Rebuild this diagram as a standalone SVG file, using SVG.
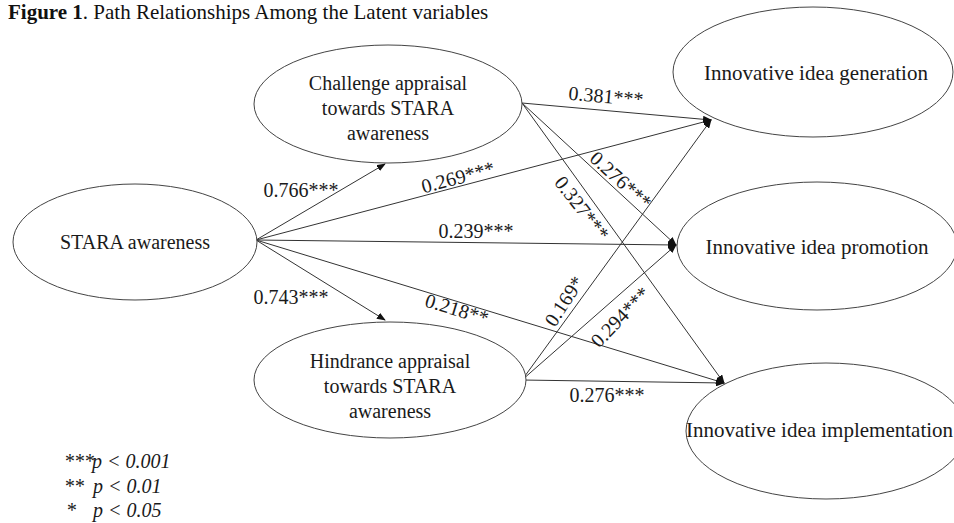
<svg xmlns="http://www.w3.org/2000/svg" width="954" height="523" viewBox="0 0 954 523">
  <defs>
    <marker id="arrow" markerWidth="9" markerHeight="7" refX="8" refY="3.5" orient="auto" markerUnits="userSpaceOnUse">
      <path d="M0,0 L9,3.5 L0,7 z" fill="#111"/>
    </marker>
    <style>
      .node ellipse { fill: #fff; stroke: #444; stroke-width: 1; }
      .node text { font-family: "Liberation Serif", "Times New Roman", serif; fill: #1a1a1a; text-anchor: middle; }
      .left text { font-size: 20px; }
      .right text { font-size: 21px; }
      .edges line { stroke: #333; stroke-width: 1; marker-end: url(#arrow); }
      .lbl { font-family: "Liberation Serif", "Times New Roman", serif; font-size: 20px; fill: #1a1a1a; text-anchor: middle; dominant-baseline: central; }
      .title { font-family: "Liberation Serif", "Times New Roman", serif; font-size: 21px; fill: #111; }
      .legend { font-family: "Liberation Serif", "Times New Roman", serif; font-size: 20px; font-style: italic; fill: #1a1a1a; }
    </style>
  </defs>
  <rect width="954" height="523" fill="#fff"/>

  <text class="title" x="8" y="19"><tspan font-weight="bold">Figure 1</tspan>. Path Relationships Among the Latent variables</text>

  <!-- path connectors -->
  <g id="edges" class="edges">
    <line x1="256" y1="240" x2="385" y2="164"/>
    <line x1="256" y1="240" x2="385" y2="320"/>
    <line x1="256" y1="240" x2="711" y2="120"/>
    <line x1="256" y1="240" x2="676" y2="245"/>
    <line x1="256" y1="240" x2="724" y2="383"/>
    <line x1="522" y1="103" x2="711" y2="120"/>
    <line x1="522" y1="103" x2="676" y2="245"/>
    <line x1="522" y1="103" x2="724" y2="383"/>
    <line x1="522" y1="380" x2="711" y2="120"/>
    <line x1="522" y1="380" x2="676" y2="245"/>
    <line x1="522" y1="380" x2="724" y2="383"/>
  </g>

  <!-- path coefficients -->
  <g id="labels">
    <text class="lbl" x="301" y="190">0.766***</text>
    <text class="lbl" x="291" y="297">0.743***</text>
    <text class="lbl" x="458" y="177" transform="rotate(-15 458 177)">0.269***</text>
    <text class="lbl" x="476" y="231">0.239***</text>
    <text class="lbl" x="457" y="309" transform="rotate(17 457 309)">0.218**</text>
    <text class="lbl" x="606" y="96" transform="rotate(5 606 96)">0.381***</text>
    <text class="lbl" x="621" y="180" transform="rotate(42 621 180)">0.276***</text>
    <text class="lbl" x="582" y="208" transform="rotate(52 582 208)">0.327***</text>
    <text class="lbl" x="564" y="301" transform="rotate(-57 564 301)">0.169*</text>
    <text class="lbl" x="620" y="317" transform="rotate(-46 620 317)">0.294***</text>
    <text class="lbl" x="607" y="395">0.276***</text>
  </g>

  <g id="stara" class="node left">
    <ellipse cx="135" cy="242" rx="122" ry="58"/>
    <text x="135" y="249">STARA awareness</text>
  </g>

  <g id="challenge" class="node left">
    <ellipse cx="388" cy="104" rx="134" ry="59"/>
    <text x="388" y="90">Challenge appraisal</text>
    <text x="388" y="115">towards STARA</text>
    <text x="388" y="140">awareness</text>
  </g>

  <g id="hindrance" class="node left">
    <ellipse cx="390" cy="380" rx="136" ry="58"/>
    <text x="390" y="368">Hindrance appraisal</text>
    <text x="390" y="393">towards STARA</text>
    <text x="390" y="418">awareness</text>
  </g>

  <g id="generation" class="node right">
    <ellipse cx="813" cy="72" rx="140" ry="65"/>
    <text x="816" y="80">Innovative idea generation</text>
  </g>

  <g id="promotion" class="node right">
    <ellipse cx="817" cy="246" rx="140" ry="64"/>
    <text x="817" y="254">Innovative idea promotion</text>
  </g>

  <g id="implementation" class="node right">
    <ellipse cx="826" cy="431" rx="140" ry="68"/>
    <text x="686" y="437" style="text-anchor: start">Innovative idea implementation</text>
  </g>

  <!-- significance key -->
  <g id="legend" class="legend">
    <text y="468"><tspan x="64">***</tspan><tspan x="92">p &lt; 0.001</tspan></text>
    <text y="493"><tspan x="64">**</tspan><tspan x="93">p &lt; 0.01</tspan></text>
    <text y="517"><tspan x="66">*</tspan><tspan x="93">p &lt; 0.05</tspan></text>
  </g>
</svg>
